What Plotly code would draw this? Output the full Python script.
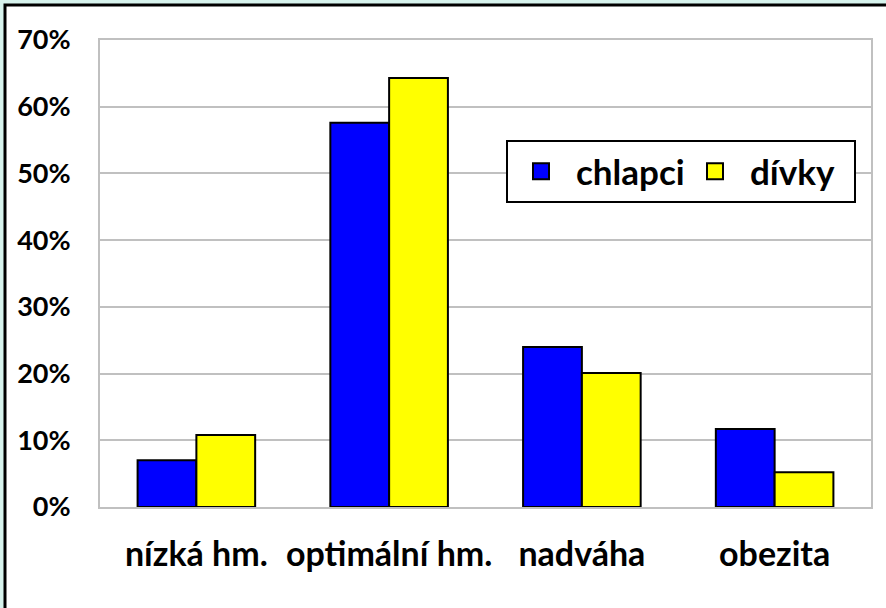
import plotly.graph_objects as go

categories = ["nízká hm.", "optimální hm.", "nadváha", "obezita"]
chlapci = [0.070, 0.576, 0.240, 0.117]
divky = [0.108, 0.643, 0.201, 0.052]
series_names = ["chlapci", "dívky"]
colors = ["#0000ff", "#ffff00"]

W, H = 886, 608
L, R, T, B = 100, 15, 40, 101
pw, ph = W - L - R, H - T - B
BG = "#d7f3ed"

def px_x(p):
    return (p - L) / pw

def px_y(p):
    return (H - B - p) / ph

fig = go.Figure()
for name, vals, col in zip(series_names, [chlapci, divky], colors):
    fig.add_trace(go.Bar(
        x=categories, y=vals, name=name, legendgroup=name, showlegend=False,
        marker=dict(color=col, line=dict(color="black", width=2)),
    ))
    fig.add_trace(go.Scatter(
        x=[None], y=[None], mode="markers", name=name, legendgroup=name,
        marker=dict(symbol="square", size=20, color=col, line=dict(color="black", width=2)),
    ))

font = "Lato, 'Open Sans', sans-serif"
fig.update_layout(
    width=W, height=H,
    margin=dict(l=L, r=R, t=T, b=B, pad=0, autoexpand=False),
    paper_bgcolor=BG,
    plot_bgcolor="white",
    barmode="group",
    bargap=0.39,
    bargroupgap=0,
    font=dict(family=font, color="black"),
    showlegend=True,
    legend=dict(
        orientation="h",
        x=px_x(506), y=px_y(140), xanchor="left", yanchor="top",
        bgcolor="white", bordercolor="black", borderwidth=2,
        font=dict(family=font, size=35, color="black", weight="bold"),
        itemwidth=60, entrywidth=99,
        itemclick="toggle",
    ),
    shapes=[dict(
        type="rect", xref="paper", yref="paper", layer="below",
        x0=px_x(5), x1=px_x(920), y0=px_y(640), y1=px_y(5),
        fillcolor="white", line=dict(color="black", width=3),
    )],
)
fig.update_xaxes(
    showgrid=False, showline=True, mirror=True, linecolor="#c0c0c0", linewidth=2,
    tickfont=dict(family=font, size=34, color="black", weight="bold"),
    tickangle=0,
    ticks="", ticklabelstandoff=16, automargin=False,
)
fig.update_yaxes(
    range=[0, 0.7], dtick=0.1, tickformat=".0%",
    showgrid=True, gridcolor="#c0c0c0", gridwidth=2,
    showline=True, mirror=True, linecolor="#c0c0c0", linewidth=2,
    zeroline=False,
    tickfont=dict(family=font, size=27, color="black", weight="bold"),
    ticks="", ticklabelstandoff=22, automargin=False,
)

fig.write_html(
    "out.html",
    config={"displayModeBar": False},
    post_script=f"document.body.style.margin='0';document.body.style.background='{BG}';",
)
